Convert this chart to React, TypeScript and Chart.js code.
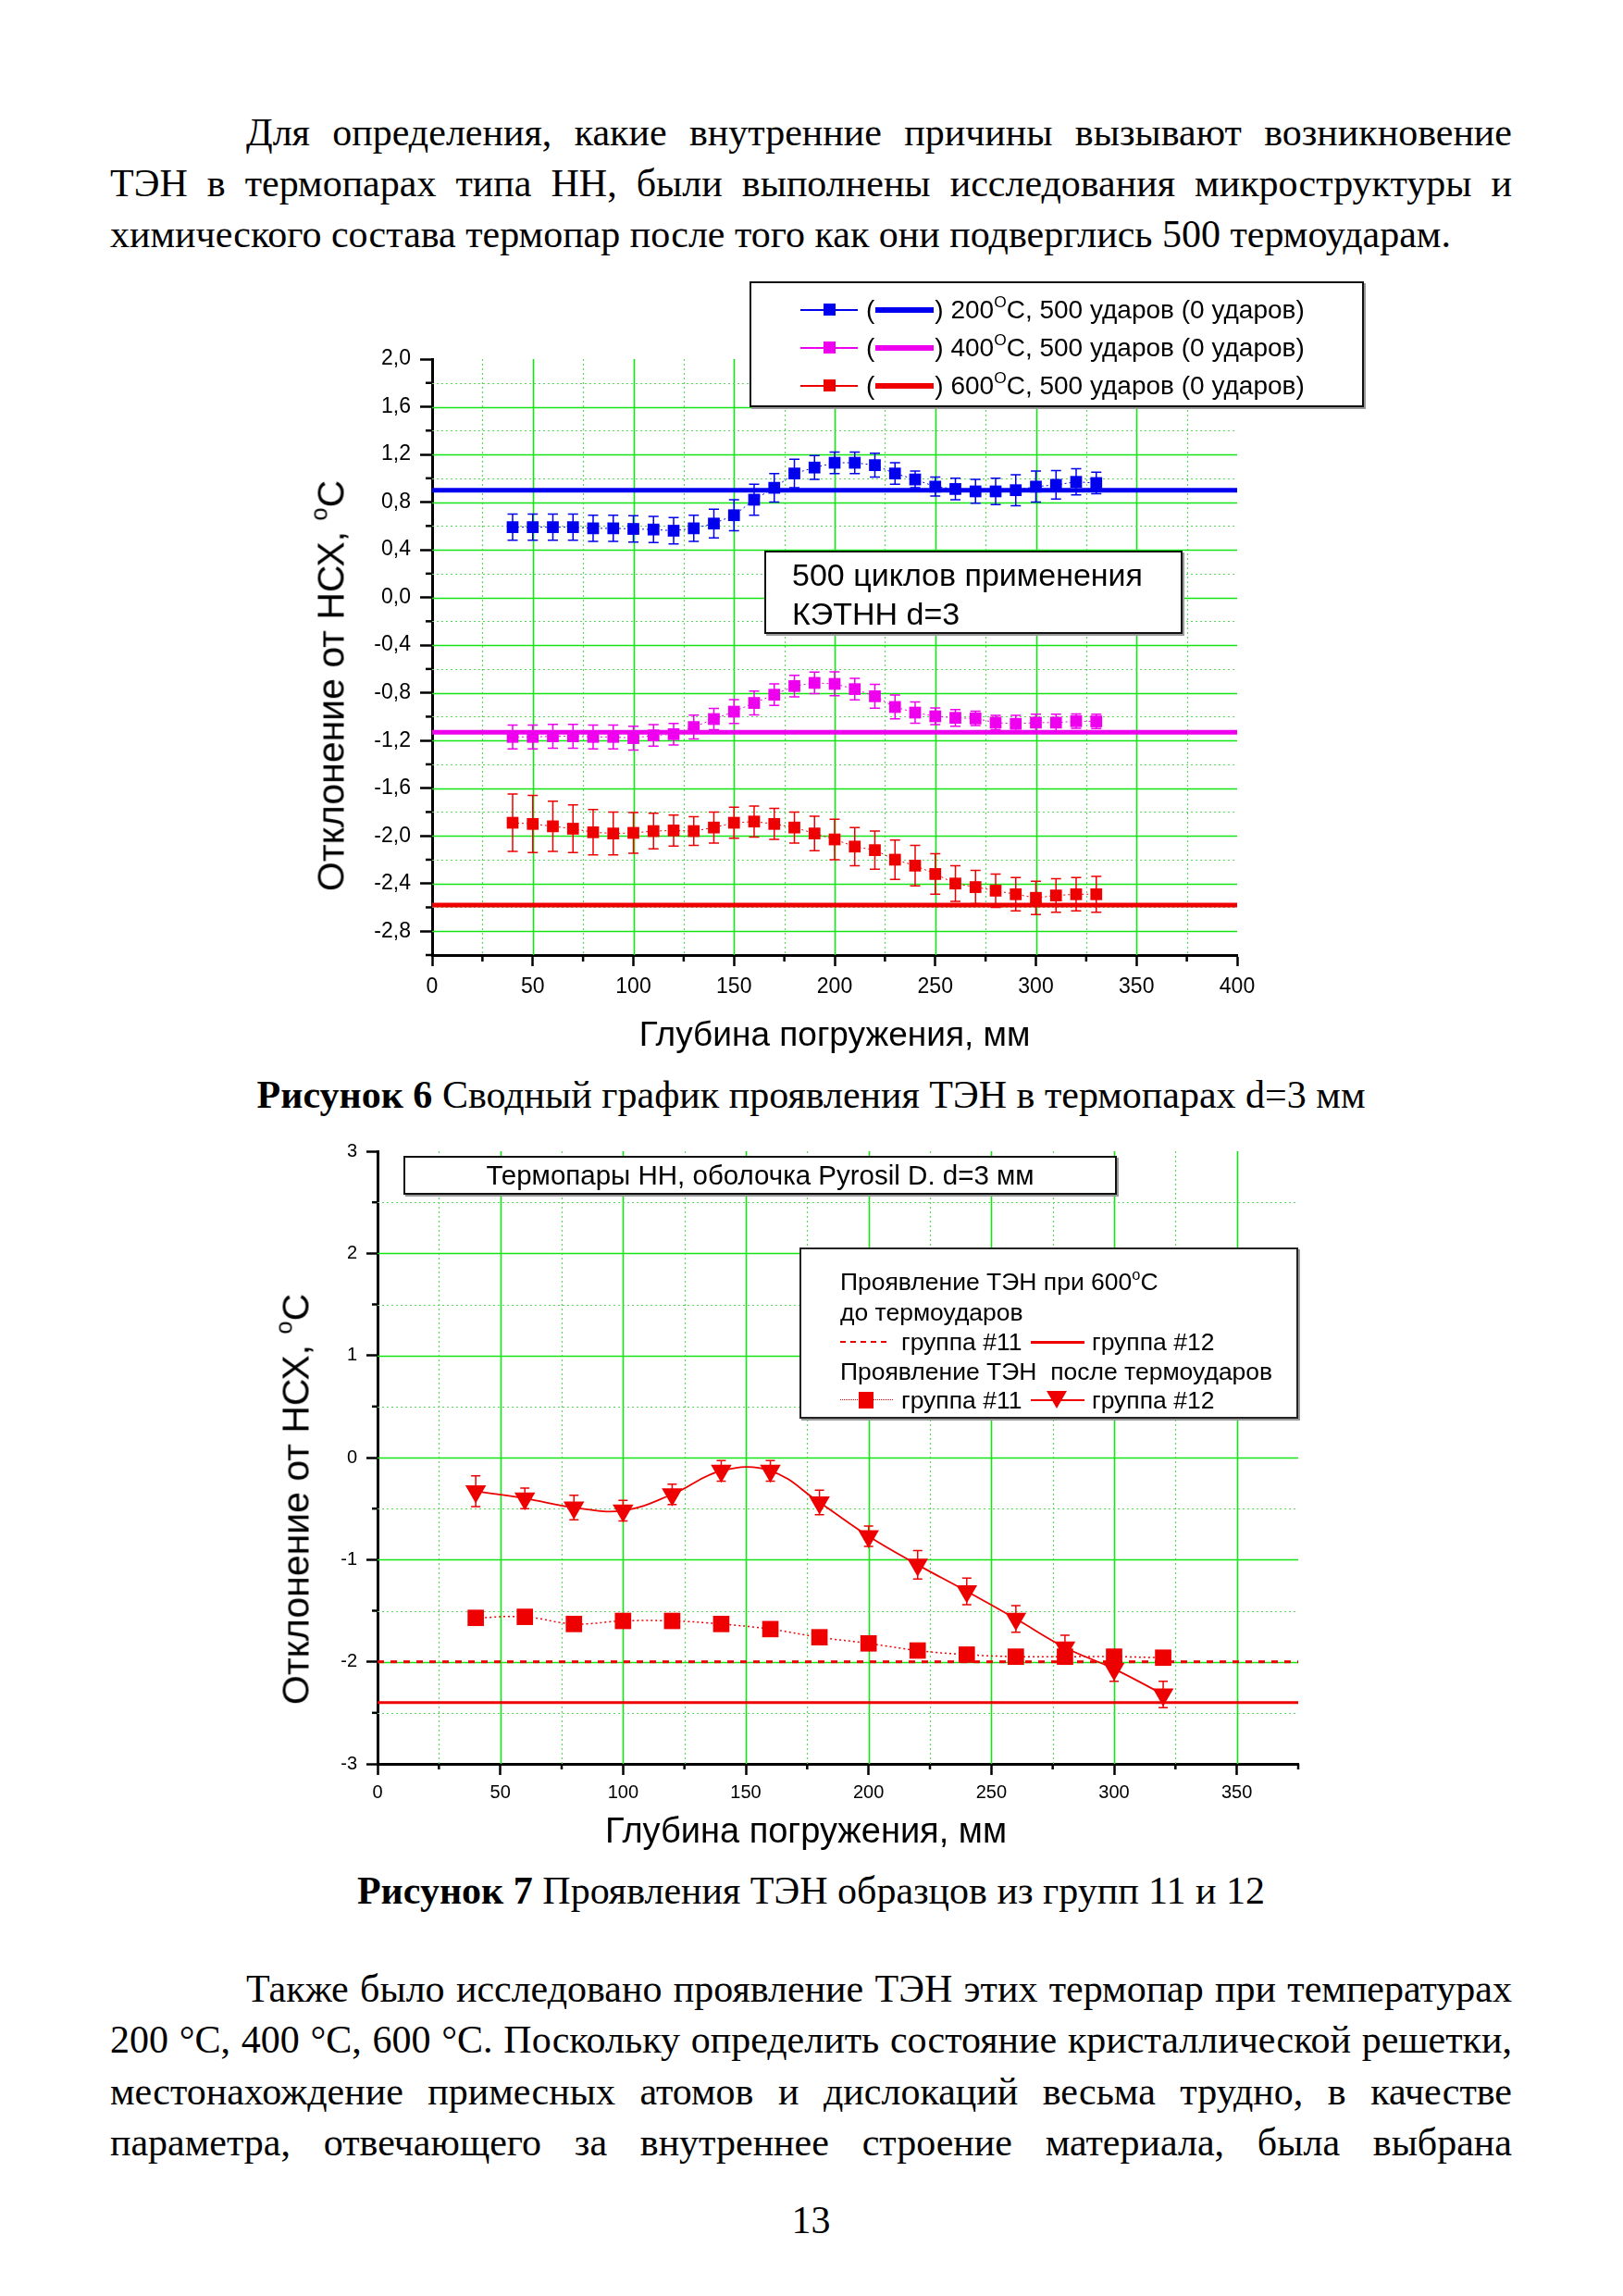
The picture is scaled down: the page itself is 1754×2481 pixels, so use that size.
import React, { useEffect, useRef } from 'react';
import { Chart, registerables } from 'chart.js';

Chart.register(...registerables);

const SANS = '"Liberation Sans", Arial, Helvetica, sans-serif';
const SERIF = '"Liberation Serif", "Times New Roman", serif';

// ---------------- Figure 6 data ----------------
const depth6 = [40, 50, 60, 70, 80, 90, 100, 110, 120, 130, 140, 150, 160, 170, 180, 190, 200, 210, 220, 230, 240, 250, 260, 270, 280, 290, 300, 310, 320, 330];
const dev200 = [0.59, 0.59, 0.59, 0.59, 0.58, 0.58, 0.575, 0.57, 0.56, 0.58, 0.62, 0.69, 0.82, 0.92, 1.04, 1.09, 1.13, 1.13, 1.11, 1.04, 0.99, 0.93, 0.91, 0.89, 0.89, 0.9, 0.93, 0.945, 0.97, 0.96];
const err200 = [0.11, 0.11, 0.11, 0.11, 0.11, 0.11, 0.11, 0.11, 0.11, 0.11, 0.12, 0.13, 0.13, 0.12, 0.12, 0.1, 0.09, 0.09, 0.1, 0.09, 0.07, 0.08, 0.09, 0.1, 0.11, 0.13, 0.13, 0.12, 0.11, 0.09];
const dev400 = [-1.17, -1.17, -1.165, -1.165, -1.17, -1.17, -1.18, -1.157, -1.147, -1.087, -1.02, -0.958, -0.885, -0.816, -0.743, -0.717, -0.725, -0.769, -0.829, -0.919, -0.966, -0.997, -1.01, -1.015, -1.05, -1.06, -1.05, -1.05, -1.038, -1.04];
const err400 = [0.1, 0.1, 0.1, 0.1, 0.1, 0.1, 0.1, 0.09, 0.09, 0.1, 0.09, 0.1, 0.1, 0.09, 0.09, 0.09, 0.1, 0.09, 0.1, 0.1, 0.09, 0.07, 0.07, 0.06, 0.06, 0.07, 0.07, 0.07, 0.06, 0.06];
const dev600 = [-1.89, -1.9, -1.92, -1.94, -1.97, -1.98, -1.975, -1.96, -1.955, -1.96, -1.93, -1.89, -1.88, -1.9, -1.93, -1.98, -2.03, -2.09, -2.12, -2.2, -2.25, -2.32, -2.4, -2.43, -2.46, -2.49, -2.52, -2.5, -2.49, -2.49];
const err600 = [0.24, 0.24, 0.21, 0.2, 0.19, 0.18, 0.17, 0.15, 0.13, 0.12, 0.13, 0.13, 0.13, 0.13, 0.13, 0.145, 0.17, 0.16, 0.16, 0.165, 0.17, 0.17, 0.15, 0.14, 0.14, 0.14, 0.14, 0.14, 0.14, 0.15];
const ref200 = 0.9; // 0 ударов
const ref400 = -1.13;
const ref600 = -2.58;
const x6Min = 0;
const x6Max = 400;
const y6Min = -3;
const y6Max = 2;
const legend6 = ['200', '400', '600'];

// ---------------- Figure 7 data ----------------
const depth7 = [40, 60, 80, 100, 120, 140, 160, 180, 200, 220, 240, 260, 280, 300, 320];
const after11 = [-1.57, -1.56, -1.63, -1.6, -1.6, -1.63, -1.68, -1.76, -1.82, -1.89, -1.93, -1.95, -1.95, -1.95, -1.96];
const after12 = [-0.33, -0.4, -0.49, -0.52, -0.36, -0.13, -0.13, -0.44, -0.77, -1.05, -1.31, -1.58, -1.86, -2.07, -2.32];
const err12 = [0.15, 0.1, 0.12, 0.1, 0.1, 0.1, 0.1, 0.12, 0.1, 0.14, 0.13, 0.13, 0.12, 0.12, 0.13];
const before11 = -2.0;
const before12 = -2.4;
const x7Min = 0;
const x7Max = 375;
const y7Min = -3;
const y7Max = 3;

const BLUE = '#0000ee';
const MAGENTA = '#ee00ee';
const RED = '#ee0000';
const GREEN = 'rgb(20,228,20)';
const GREEN_MINOR = 'rgb(90,215,90)';

const near = (a: number, b: number) => Math.abs(a - b) < 1e-6;
const isMult = (v: number, base: number, step: number) => {
  const k = (v - base) / step;
  return Math.abs(k - Math.round(k)) < 1e-6;
};

// grid + minor ticks plugin (uses the chart's own scales)
const gridPlugin: any = {
  id: 'pageGrid',
  beforeDatasetsDraw(chart: any, _a: any, opts: any) {
    const { ctx, chartArea: a } = chart;
    const xs = chart.scales.x;
    const ys = chart.scales.y;
    ctx.save();
    const stroke = (major: boolean, x1: number, y1: number, x2: number, y2: number) => {
      ctx.beginPath();
      ctx.strokeStyle = major ? GREEN : GREEN_MINOR;
      ctx.lineWidth = major ? 1.6 : 1.2;
      ctx.setLineDash(major ? [] : [2, 3]);
      ctx.moveTo(x1, y1);
      ctx.lineTo(x2, y2);
      ctx.stroke();
    };
    xs.ticks.forEach((t: any) => {
      const v = t.value;
      if (near(v, xs.min) || near(v, xs.max)) return;
      const px = Math.round(xs.getPixelForValue(v)) + 0.5;
      stroke(opts.xMajor(v), px, a.top, px, a.bottom);
    });
    ys.ticks.forEach((t: any) => {
      const v = t.value;
      if (near(v, ys.min) || near(v, ys.max)) return;
      const py = Math.round(ys.getPixelForValue(v)) + 0.5;
      stroke(opts.yMajor(v), a.left, py, a.right, py);
    });
    ctx.restore();
  },
  afterDraw(chart: any, _a: any, opts: any) {
    const { ctx, chartArea: a } = chart;
    const xs = chart.scales.x;
    const ys = chart.scales.y;
    ctx.save();
    ctx.strokeStyle = '#000';
    ctx.lineWidth = 2.5;
    ctx.setLineDash([]);
    const len = opts.minorLen;
    xs.ticks.forEach((t: any) => {
      if (opts.xMajor(t.value)) return;
      const px = xs.getPixelForValue(t.value);
      ctx.beginPath();
      ctx.moveTo(px, a.bottom);
      ctx.lineTo(px, a.bottom + len);
      ctx.stroke();
    });
    ys.ticks.forEach((t: any) => {
      if (opts.yMajor(t.value)) return;
      const py = ys.getPixelForValue(t.value);
      ctx.beginPath();
      ctx.moveTo(a.left, py);
      ctx.lineTo(a.left - len, py);
      ctx.stroke();
    });
    ctx.restore();
  },
};

// error bar plugin
const errorBarPlugin: any = {
  id: 'errorBars',
  afterDatasetDraw(chart: any, args: any) {
    const ds = chart.data.datasets[args.index];
    if (!ds.errors) return;
    const xs = chart.scales.x;
    const ys = chart.scales.y;
    const ctx = chart.ctx;
    ctx.save();
    ctx.strokeStyle = ds.errorColor || ds.borderColor;
    ctx.lineWidth = 1.5;
    ctx.setLineDash([]);
    const cap = ds.errorCap || 5;
    ds.data.forEach((p: any, i: number) => {
      const e = ds.errors[i];
      const x = xs.getPixelForValue(p.x);
      const y1 = ys.getPixelForValue(p.y + e);
      const y2 = ys.getPixelForValue(p.y - e);
      ctx.beginPath();
      ctx.moveTo(x, y1);
      ctx.lineTo(x, y2);
      ctx.moveTo(x - cap, y1);
      ctx.lineTo(x + cap, y1);
      ctx.moveTo(x - cap, y2);
      ctx.lineTo(x + cap, y2);
      ctx.stroke();
    });
    ctx.restore();
  },
};

const fmtComma = (v: number) => {
  const s = (Math.round(v * 10) / 10).toFixed(1).replace('.', ',');
  return s === '-0,0' ? '0,0' : s;
};

function axisCommon(major: (v: number) => boolean, fontSize: number, tickLen: number, pad: number) {
  return {
    grid: {
      drawOnChartArea: false,
      drawTicks: true,
      tickLength: tickLen,
      tickWidth: 2.5,
      tickColor: (c: any) => (c.tick && major(c.tick.value) ? '#000' : 'rgba(0,0,0,0)'),
    },
    border: { display: true, color: '#000', width: 3 },
    ticks: {
      autoSkip: false,
      maxTicksLimit: 1000,
      maxRotation: 0,
      minRotation: 0,
      padding: pad,
      color: '#000',
      font: { family: SANS, size: fontSize },
    },
  };
}

function fig6Config(): any {
  const pts = (ys: number[]) => depth6.map((x, i) => ({ x, y: ys[i] }));
  const refLine = (v: number) => [
    { x: x6Min, y: v },
    { x: x6Max, y: v },
  ];
  const xMajor = (v: number) => isMult(v, 0, 50);
  const yMajor = (v: number) => isMult(v, y6Max, 0.4);
  const series = (data: number[], errs: number[], color: string, label: string) => ({
    label,
    data: pts(data),
    errors: errs,
    errorCap: 5.5,
    borderColor: color,
    backgroundColor: color,
    borderWidth: 1,
    borderDash: [2, 3],
    pointStyle: 'rect',
    pointRadius: 9,
    pointHoverRadius: 9,
    pointBorderWidth: 0,
    pointBackgroundColor: color,
    tension: 0,
    order: 0,
  });
  const refDs = (v: number, color: string, label: string) => ({
    label,
    data: refLine(v),
    borderColor: color,
    borderWidth: 5,
    pointRadius: 0,
    pointHoverRadius: 0,
    order: 5,
  });
  const xc = axisCommon(xMajor, 23, 12, 9);
  const yc = axisCommon(yMajor, 23, 13, 10);
  return {
    type: 'line',
    data: {
      datasets: [
        series(dev200, err200, BLUE, legend6[0]),
        series(dev400, err400, MAGENTA, legend6[1]),
        series(dev600, err600, RED, legend6[2]),
        refDs(ref200, BLUE, legend6[0] + ' (0)'),
        refDs(ref400, MAGENTA, legend6[1] + ' (0)'),
        refDs(ref600, RED, legend6[2] + ' (0)'),
      ],
    },
    plugins: [gridPlugin, errorBarPlugin],
    options: {
      responsive: false,
      animation: false,
      events: [],
      layout: { padding: { top: 28, right: 63, left: 0, bottom: 0 } },
      plugins: {
        legend: { display: false },
        tooltip: { enabled: false },
        pageGrid: { xMajor, yMajor, minorLen: 7 },
      },
      scales: {
        x: {
          type: 'linear',
          min: x6Min,
          max: x6Max,
          afterFit: (s: any) => {
            s.height = 68;
          },
          ...xc,
          ticks: { ...xc.ticks, stepSize: 25, callback: (v: any) => (xMajor(v) ? String(v) : '') },
        },
        y: {
          type: 'linear',
          min: y6Min,
          max: y6Max,
          afterFit: (s: any) => {
            s.width = 107;
          },
          ...yc,
          ticks: { ...yc.ticks, stepSize: 0.2, callback: (v: any) => (yMajor(v) ? fmtComma(v) : '') },
        },
      },
    },
  };
}

function fig7Config(): any {
  const pts = (ys: number[]) => depth7.map((x, i) => ({ x, y: ys[i] }));
  const refLine = (v: number) => [
    { x: x7Min, y: v },
    { x: x7Max, y: v },
  ];
  const xMajor = (v: number) => isMult(v, 0, 50);
  const yMajor = (v: number) => isMult(v, 0, 1);
  const xc = axisCommon(xMajor, 20, 12, 7);
  const yc = axisCommon(yMajor, 20, 12, 10);
  return {
    type: 'line',
    data: {
      datasets: [
        {
          label: 'группа #11 после',
          data: pts(after11),
          borderColor: RED,
          backgroundColor: RED,
          borderWidth: 1.5,
          borderDash: [2, 3],
          pointStyle: 'rect',
          pointRadius: 12.5,
          pointHoverRadius: 12.5,
          pointBorderWidth: 0,
          tension: 0.4,
          order: 0,
        },
        {
          label: 'группа #12 после',
          data: pts(after12),
          errors: err12,
          errorCap: 5,
          borderColor: RED,
          backgroundColor: RED,
          borderWidth: 1.8,
          pointStyle: 'triangle',
          pointRotation: 180,
          pointRadius: 13,
          pointHoverRadius: 13,
          pointBorderWidth: 0,
          tension: 0.4,
          order: 0,
        },
        {
          label: 'группа #11 до',
          data: refLine(before11),
          borderColor: RED,
          borderWidth: 3,
          borderDash: [7, 7],
          pointRadius: 0,
          pointHoverRadius: 0,
          order: 5,
        },
        {
          label: 'группа #12 до',
          data: refLine(before12),
          borderColor: RED,
          borderWidth: 3,
          pointRadius: 0,
          pointHoverRadius: 0,
          order: 5,
        },
      ],
    },
    plugins: [gridPlugin, errorBarPlugin],
    options: {
      responsive: false,
      animation: false,
      events: [],
      layout: { padding: { top: 34, right: 37, left: 0, bottom: 0 } },
      plugins: {
        legend: { display: false },
        tooltip: { enabled: false },
        pageGrid: { xMajor, yMajor, minorLen: 6 },
      },
      scales: {
        x: {
          type: 'linear',
          min: x7Min,
          max: x7Max,
          afterFit: (s: any) => {
            s.height = 74;
          },
          ...xc,
          ticks: { ...xc.ticks, stepSize: 25, callback: (v: any) => (xMajor(v) ? String(v) : '') },
        },
        y: {
          type: 'linear',
          min: y7Min,
          max: y7Max,
          afterFit: (s: any) => {
            s.width = 108;
          },
          ...yc,
          ticks: { ...yc.ticks, stepSize: 0.5, callback: (v: any) => (yMajor(v) ? String(Math.round(v)) : '') },
        },
      },
    },
  };
}

function ChartCanvas(props: { left: number; top: number; width: number; height: number; make: () => any }) {
  const ref = useRef<HTMLCanvasElement>(null);
  useEffect(() => {
    const chart = new Chart(ref.current as HTMLCanvasElement, props.make());
    return () => chart.destroy();
  }, []);
  return (
    <canvas
      ref={ref}
      width={props.width}
      height={props.height}
      style={{ position: 'absolute', left: props.left, top: props.top, width: props.width, height: props.height }}
    />
  );
}

const Sup = (p: { children: any }) => (
  <span style={{ fontSize: '0.62em', position: 'relative', top: '-0.7em' }}>{p.children}</span>
);

const BODY = 42;

function TextLine(p: { left: number; right: number; baseline: number; children: any; justify?: boolean; center?: boolean }) {
  return (
    <div
      style={{
        position: 'absolute',
        left: p.left,
        width: p.right - p.left,
        top: p.baseline - 35,
        height: BODY,
        fontFamily: SERIF,
        fontSize: BODY,
        lineHeight: BODY + 'px',
        whiteSpace: 'nowrap',
        textAlign: p.center ? 'center' : p.justify ? 'justify' : 'left',
        textAlignLast: p.center ? 'center' : p.justify ? 'justify' : 'left',
      } as any}
    >
      {p.children}
    </div>
  );
}

function Abs(p: { left: number; top: number; style?: any; children?: any }) {
  return <div style={{ position: 'absolute', left: p.left, top: p.top, ...(p.style || {}) }}>{p.children}</div>;
}

function Legend6Row(p: { cy: number; color: string; temp: string }) {
  return (
    <div
      style={{
        position: 'absolute',
        left: 865,
        top: p.cy - 20,
        height: 40,
        display: 'flex',
        alignItems: 'center',
        fontFamily: SANS,
        fontSize: 28,
        whiteSpace: 'nowrap',
        color: '#000',
      }}
    >
      <span style={{ position: 'relative', width: 62, height: 40, display: 'inline-block' }}>
        <span style={{ position: 'absolute', left: 0, width: 62, top: 19, height: 1.5, background: p.color }} />
        <span style={{ position: 'absolute', left: 25, width: 13, top: 13, height: 13, background: p.color }} />
      </span>
      <span style={{ marginLeft: 9 }}>(</span>
      <span style={{ width: 63, height: 6, background: p.color, display: 'inline-block', margin: '0 1px' }} />
      <span>
        ) {p.temp}
        <Sup>O</Sup>C, 500 ударов (0 ударов)
      </span>
    </div>
  );
}

function YTitle(p: { cx: number; cy: number; size: number }) {
  return (
    <div
      style={{
        position: 'absolute',
        left: p.cx,
        top: p.cy,
        transform: 'translate(-50%, -50%) rotate(-90deg)',
        fontFamily: SANS,
        fontSize: p.size,
        whiteSpace: 'nowrap',
        lineHeight: 1,
      }}
    >
      Отклонение от НСХ, <Sup>o</Sup>C
    </div>
  );
}

function XTitle(p: { cx: number; cy: number; size: number }) {
  return (
    <div
      style={{
        position: 'absolute',
        left: p.cx,
        top: p.cy,
        transform: 'translate(-50%, -50%)',
        fontFamily: SANS,
        fontSize: p.size,
        whiteSpace: 'nowrap',
        lineHeight: 1,
      }}
    >
      Глубина погружения, мм
    </div>
  );
}

export default function App() {
  const L = 119;
  const R = 1634;
  const IND = 266;
  const legendText2: React.CSSProperties = {
    position: 'absolute',
    fontFamily: SANS,
    fontSize: 26.5,
    lineHeight: '30px',
    whiteSpace: 'pre',
    color: '#000',
  };
  return (
    <div
      style={{
        position: 'absolute',
        left: 0,
        top: 0,
        width: 1754,
        height: 2481,
        background: '#fff',
        color: '#000',
        overflow: 'hidden',
      }}
    >
      {/* top paragraph */}
      <TextLine left={IND} right={R} baseline={157} justify>
        Для определения, какие внутренние причины вызывают возникновение
      </TextLine>
      <TextLine left={L} right={R} baseline={212} justify>
        ТЭН в термопарах типа НН, были выполнены исследования микроструктуры и
      </TextLine>
      <TextLine left={L} right={R} baseline={267}>
        химического состава термопар после того как они подверглись 500 термоударам.
      </TextLine>

      {/* Figure 6 */}
      <ChartCanvas left={360} top={360} width={1040} height={740} make={fig6Config} />
      <div
        style={{
          position: 'absolute',
          left: 810,
          top: 304,
          width: 660,
          height: 132,
          border: '2px solid #111',
          background: '#fff',
          boxShadow: '2px 2px 0 #999',
        }}
      />
      <Legend6Row cy={335} color={BLUE} temp={legend6[0]} />
      <Legend6Row cy={376} color={MAGENTA} temp={legend6[1]} />
      <Legend6Row cy={417} color={RED} temp={legend6[2]} />
      <div
        style={{
          position: 'absolute',
          left: 826,
          top: 595,
          width: 448,
          height: 86,
          border: '2px solid #111',
          background: '#fff',
          boxShadow: '2px 2px 0 #999',
        }}
      />
      <Abs left={856} top={600} style={{ fontFamily: SANS, fontSize: 34, lineHeight: '42px', whiteSpace: 'nowrap' }}>
        500 циклов применения
        <br />
        КЭТНН d=3
      </Abs>
      <YTitle cx={358} cy={741} size={41} />
      <XTitle cx={902} cy={1117} size={37} />
      <TextLine left={L} right={R} baseline={1197} center>
        <b>Рисунок 6</b> Сводный график проявления ТЭН в термопарах d=3 мм
      </TextLine>

      {/* Figure 7 */}
      <ChartCanvas left={300} top={1210} width={1140} height={770} make={fig7Config} />
      <div
        style={{
          position: 'absolute',
          left: 436,
          top: 1249,
          width: 767,
          height: 38,
          border: '2px solid #111',
          background: '#fff',
          boxShadow: '2px 2px 0 #999',
          fontFamily: SANS,
          fontSize: 29.5,
          lineHeight: '38px',
          textAlign: 'center',
          whiteSpace: 'nowrap',
        }}
      >
        Термопары НН, оболочка Pyrosil D. d=3 мм
      </div>
      <div
        style={{
          position: 'absolute',
          left: 864,
          top: 1348,
          width: 535,
          height: 181,
          border: '2px solid #222',
          background: '#fff',
          boxShadow: '2px 2px 0 #999',
        }}
      />
      <div style={{ ...legendText2, left: 908, top: 1370 }}>
        Проявление ТЭН при 600<Sup>o</Sup>C
      </div>
      <div style={{ ...legendText2, left: 908, top: 1403 }}>до термоударов</div>
      {/* row 3 */}
      <div style={{ position: 'absolute', left: 908, top: 1449, width: 50, height: 0, borderTop: `2.5px dashed ${RED}` }} />
      <div style={{ ...legendText2, left: 974, top: 1435 }}>группа #11</div>
      <div style={{ position: 'absolute', left: 1114, top: 1449, width: 58, height: 2.5, background: RED }} />
      <div style={{ ...legendText2, left: 1180, top: 1435 }}>группа #12</div>
      <div style={{ ...legendText2, left: 908, top: 1467 }}>Проявление ТЭН  после термоударов</div>
      {/* row 5 */}
      <div style={{ position: 'absolute', left: 908, top: 1512, width: 57, height: 0, borderTop: `1.5px dotted ${RED}` }} />
      <div style={{ position: 'absolute', left: 928, top: 1504, width: 16, height: 18, background: RED }} />
      <div style={{ ...legendText2, left: 974, top: 1498 }}>группа #11</div>
      <div style={{ position: 'absolute', left: 1114, top: 1512, width: 58, height: 1.8, background: RED }} />
      <div
        style={{
          position: 'absolute',
          left: 1131,
          top: 1503,
          width: 0,
          height: 0,
          borderLeft: '11px solid transparent',
          borderRight: '11px solid transparent',
          borderTop: `19px solid ${RED}`,
        }}
      />
      <div style={{ ...legendText2, left: 1180, top: 1498 }}>группа #12</div>
      <YTitle cx={320} cy={1620} size={41} />
      <XTitle cx={871} cy={1978} size={38} />
      <TextLine left={L} right={R} baseline={2057} center>
        <b>Рисунок 7</b> Проявления ТЭН образцов из групп 11 и 12
      </TextLine>

      {/* bottom paragraph */}
      <TextLine left={IND} right={R} baseline={2163} justify>
        Также было исследовано проявление ТЭН этих термопар при температурах
      </TextLine>
      <TextLine left={L} right={R} baseline={2218} justify>
        200 °C, 400 °C, 600 °C. Поскольку определить состояние кристаллической решетки,
      </TextLine>
      <TextLine left={L} right={R} baseline={2274} justify>
        местонахождение примесных атомов и дислокаций весьма трудно, в качестве
      </TextLine>
      <TextLine left={L} right={R} baseline={2329} justify>
        параметра, отвечающего за внутреннее строение материала, была выбрана
      </TextLine>
      <TextLine left={L} right={R} baseline={2413} center>
        13
      </TextLine>
    </div>
  );
}
